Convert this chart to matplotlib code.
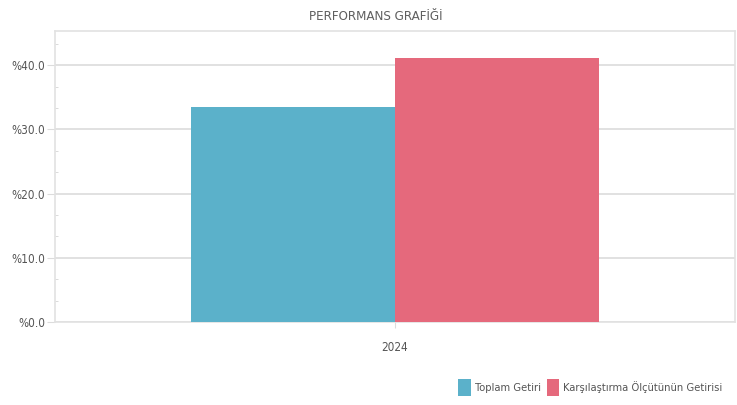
import matplotlib.pyplot as plt
from matplotlib.ticker import MultipleLocator, FuncFormatter

years = ["2024"]
series_names = ["Toplam Getiri", "Karşılaştırma Ölçütünün Getirisi"]
toplam = [33.5]
karsilastirma = [41.2]
colors = ["#5BB1CA", "#E5697C"]

plt.rcParams['font.family'] = ['DejaVu Sans']
plt.rcParams['font.stretch'] = 'condensed'

fig = plt.figure(figsize=(7.37, 4.05), dpi=100)
ax = fig.add_axes([0.0746, 0.205, 0.9224, 0.718])

w = 0.3
ax.bar([-w / 2], toplam, width=w, color=colors[0], label=series_names[0], zorder=3)
ax.bar([w / 2], karsilastirma, width=w, color=colors[1], label=series_names[1], zorder=3)

ax.set_xlim(-0.5, 0.5)
ax.set_ylim(0, 45.3)
ax.set_xticks([0])
ax.set_xticklabels(years)
ax.yaxis.set_major_locator(MultipleLocator(10))
ax.yaxis.set_minor_locator(MultipleLocator(10 / 3))
ax.yaxis.set_major_formatter(FuncFormatter(lambda v, p: "%{:.1f}".format(v)))

ax.grid(axis='y', color='#dcdcdc', linewidth=1.2, zorder=0)
for s in ax.spines.values():
    s.set_color('#e2e2e2')
    s.set_linewidth(1.2)
ax.tick_params(axis='y', which='major', length=6, color='#dcdcdc', labelsize=8.5,
               labelcolor='#555555', pad=1)
ax.tick_params(axis='y', which='minor', length=2, color='#d5d5d5', direction='in')
ax.tick_params(axis='x', length=4, color='#dcdcdc', labelsize=8.5, labelcolor='#555555',
               pad=10)

fig.suptitle("PERFORMANS GRAFİĞİ", x=0.51, y=0.975, fontsize=9.5, color='#5f5f5f',
             fontweight='medium')

fig.legend(loc='lower right', bbox_to_anchor=(0.994, -0.002), ncol=2, frameon=False,
           fontsize=8, handlelength=1.1, handleheight=1.9, handletextpad=0.35,
           columnspacing=0.6, labelcolor='#555555')

fig.savefig("out.png", dpi=100)
